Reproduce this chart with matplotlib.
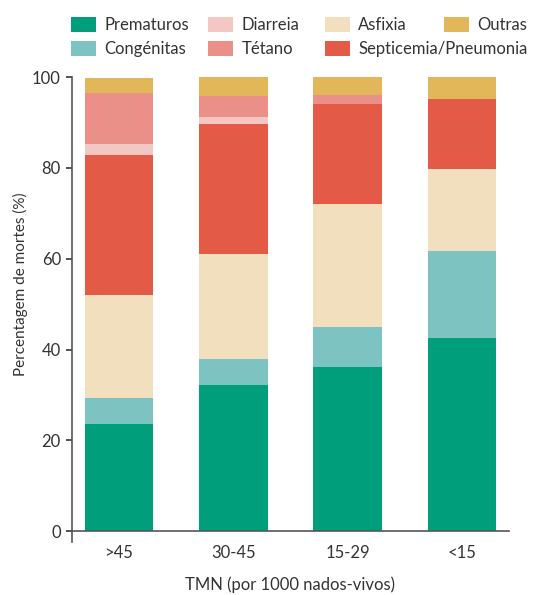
import matplotlib
matplotlib.use('Agg')
import matplotlib.pyplot as plt
import numpy as np

plt.rcParams['font.family'] = ['Lato', 'DejaVu Sans']

categorias = ['>45', '30-45', '15-29', '<15']
prematuros = [23.5, 32.1, 36.1, 42.5]
congenitas = [5.8, 5.8, 8.8, 19.2]
asfixia = [22.7, 23.1, 27.1, 18.0]
septicemia = [30.8, 28.6, 22.2, 15.5]
diarreia = [2.4, 1.6, 0.0, 0.0]
tetano = [11.4, 4.6, 1.8, 0.0]
outras = [3.3, 4.2, 4.0, 4.8]

series = [
    ('Prematuros', prematuros, '#009E7B'),
    ('Congénitas', congenitas, '#7DC3C1'),
    ('Asfixia', asfixia, '#F2DFBE'),
    ('Septicemia/Pneumonia', septicemia, '#E35A47'),
    ('Diarreia', diarreia, '#F3C8C4'),
    ('Tétano', tetano, '#EA9088'),
    ('Outras', outras, '#E2B75A'),
]

txt = '#333333'
fig = plt.figure(figsize=(5.44, 5.95), dpi=100)
ax = fig.add_axes([72/544, 53/595, 437/544, 467.5/595])

x = np.arange(len(categorias))
bottom = np.zeros(len(categorias))
handles = {}
for nome, vals, cor in series:
    b = ax.bar(x, vals, 0.6, bottom=bottom, color=cor, label=nome, linewidth=0)
    handles[nome] = b
    bottom += np.array(vals)

ax.set_xlim(-0.41, 3.41)
ax.set_ylim(-2.4, 100.6)
ax.set_yticks([0, 20, 40, 60, 80, 100])
ax.set_xticks(x)
ax.set_xticklabels(categorias)

for s in ['top', 'right']:
    ax.spines[s].set_visible(False)
ax.spines['bottom'].set_position(('data', 0))
ax.spines['left'].set_bounds(-2.4, 100)
ax.spines['left'].set_color('#555555')
ax.spines['bottom'].set_color('#555555')
ax.spines['left'].set_linewidth(1.2)
ax.spines['bottom'].set_linewidth(1.2)
ax.tick_params(axis='y', length=4, width=1.2, color='#333333', labelsize=12, labelcolor=txt, pad=4)
ax.tick_params(axis='x', length=0, labelsize=12, labelcolor=txt, pad=10)

ax.set_ylabel('Percentagem de mortes (%)', fontsize=11, color=txt)
ax.yaxis.set_label_coords(-0.1, 0.552)
fig.text(290/544, 1 - 585/595, 'TMN (por 1000 nados-vivos)', fontsize=12, color=txt,
         ha='center', va='center')

# legend: four columns placed like the original
colunas = [(['Prematuros', 'Congénitas'], 71),
           (['Diarreia', 'Tétano'], 208),
           (['Asfixia', 'Septicemia/Pneumonia'], 325),
           (['Outras'], 444)]
for nomes, xpx in colunas:
    leg = fig.legend([handles[n] for n in nomes], nomes, loc='upper left',
                     bbox_to_anchor=(xpx/544, 1 - 17/595), ncol=1, frameon=False,
                     fontsize=12, handlelength=1.5, handleheight=1.05, handletextpad=0.5,
                     labelspacing=0.45, borderpad=0, borderaxespad=0,
                     labelcolor=txt)

fig.savefig('out.png', dpi=100)
